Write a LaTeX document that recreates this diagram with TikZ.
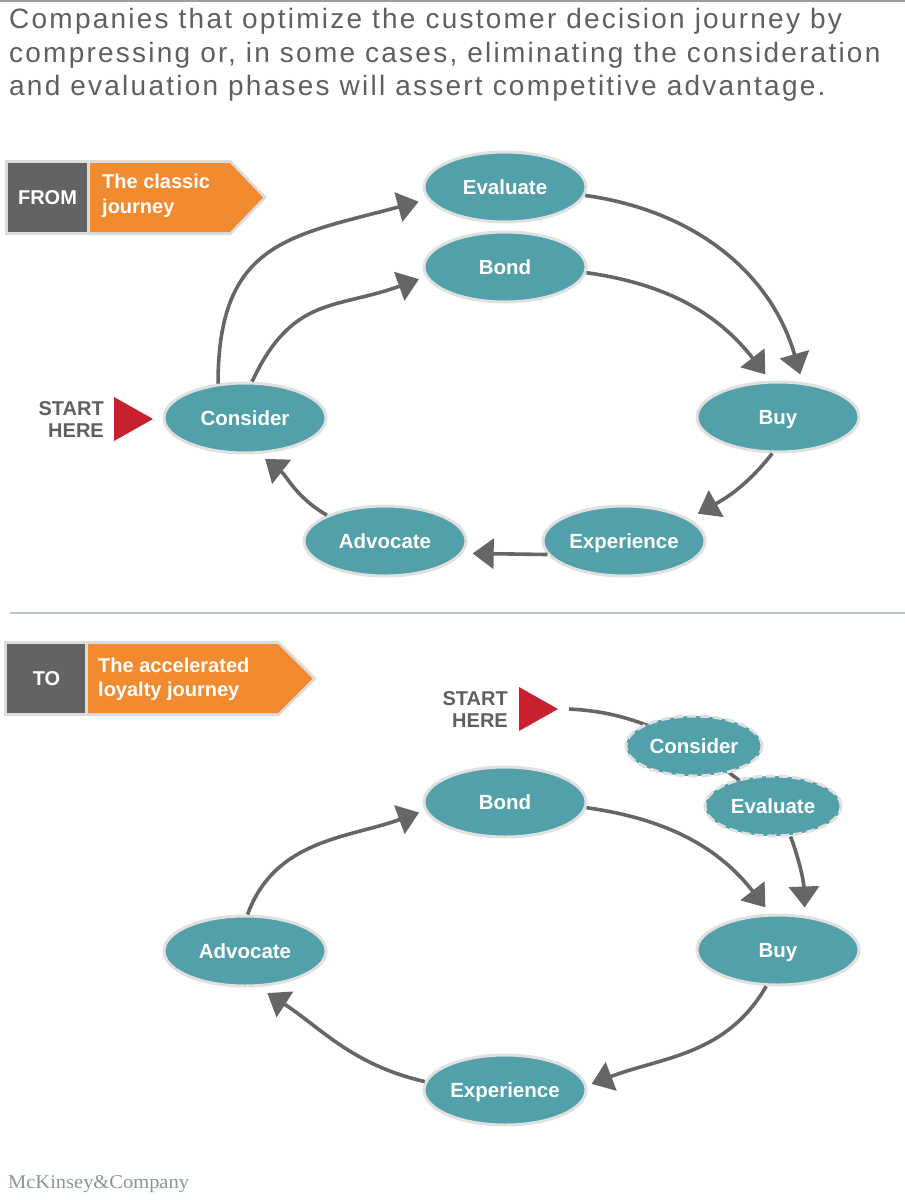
\documentclass[tikz,border=0pt]{standalone}
\usepackage{fontspec}
\setmainfont{Liberation Sans}
\newfontfamily\titlefont[LetterSpace=8]{Liberation Sans}
\newfontfamily\logofont[FakeStretch=1.05]{Liberation Serif}
\usepackage{xcolor}
\usepackage{tikz}
\usetikzlibrary{arrows.meta,shapes.geometric,backgrounds}
\definecolor{stageteal}{HTML}{52A0AA}
\definecolor{stagerim}{HTML}{E0E0DE}
\definecolor{arrowgray}{HTML}{666666}
\definecolor{tagdark}{HTML}{636363}
\definecolor{tagorange}{HTML}{F28A30}
\definecolor{tagrim}{HTML}{DCDCDC}
\definecolor{startred}{HTML}{C8202F}
\definecolor{titlegray}{HTML}{5F5F5F}
\definecolor{sepblue}{HTML}{B9C8CC}
\definecolor{logogray}{HTML}{8A9696}
\newcommand\stagefont{\bfseries\fontsize{20.5}{24}\selectfont}
\tikzset{
    stage/.style={ellipse, fill=stageteal, draw=stagerim, line width=3pt, minimum width=162pt, minimum height=70pt, inner sep=0pt, font=\stagefont, text=white, text height=14pt, text depth=0pt},
    skipped/.style={stage, dash pattern=on 9pt off 4pt, minimum width=136pt, minimum height=60pt},
    flowline/.style={draw=arrowgray, line width=3.6pt},
    flow/.style={flowline, -{Triangle[length=21pt,width=30pt]}},
    tagtext/.style={font=\bfseries\fontsize{20}{24.5}\selectfont, text=white, inner sep=0pt},
    starttext/.style={font=\bfseries\fontsize{20}{22}\selectfont, text=titlegray, align=right, inner sep=0pt},
    titletext/.style={font=\titlefont\fontsize{28}{33.5}\selectfont, text=titlegray, align=left, inner sep=0pt},
    logotext/.style={font=\logofont\fontsize{19.5}{22}\selectfont, text=logogray, inner sep=0pt}}

\begin{document}
\begin{tikzpicture}[x=1pt,y=1pt]
    \useasboundingbox (0,0) rectangle (905,-1200);
    \draw[color=black!38, line width=2pt] (0,-1) -- (905,-1);
    \node[titletext, anchor=north west] (title) at (9,-8.5) {Companies that optimize the customer decision journey by\\compressing or, in some cases, eliminating the consideration\\and evaluation phases will assert competitive advantage.};

    % FROM tag
    \fill[tagrim] (5,-160) -- (231,-160) -- (267,-197.5) -- (231,-235) -- (5,-235) -- cycle;
    \fill[tagdark] (8,-163) rectangle (87,-232);
    \fill[tagorange] (90,-163) -- (230,-163) -- (263,-197.5) -- (230,-232) -- (90,-232) -- cycle;
    \node[tagtext] (fromlbl) at (47.5,-197.5) {FROM};
    \node[tagtext, align=left, anchor=west] (fromname) at (102,-196) {The classic\\journey};

    % classic journey
    \node[starttext, anchor=east] (startAtxt) at (104,-420) {START\\HERE};
    \fill[startred] (114,-397) -- (153,-419) -- (114,-441) -- cycle;

    \node[stage] (evalA) at (505,-187) {Evaluate};
    \node[stage] (bondA) at (505,-267) {Bond};
    \node[stage] (consA) at (245,-418) {Consider};
    \node[stage] (buyA) at (778,-417) {Buy};
    \node[stage] (expA) at (624,-541) {Experience};
    \node[stage] (advA) at (385,-541) {Advocate};

    \draw[flow, shorten >=9pt] (consA.128) to[out=90, in=195, looseness=1.3] (evalA.189);
    \draw[flow, shorten >=7pt] (consA.79) to[out=65, in=200, looseness=1.2] (bondA.187);
    \draw[flow, shorten >=8pt] (evalA.-6) to[out=-8, in=106] (buyA.55);
    \draw[flow, shorten >=8pt] (bondA.-4) to[out=-8, in=128] (buyA.102);
    \draw[flow, shorten >=10pt] (buyA.261) to[out=232, in=29] (expA.19);
    \draw[flow, shorten >=10pt] (expA.190) -- (advA.-9);
    \draw[flow, shorten >=8pt] (advA.156) to[out=150, in=-38] (consA.291);

    \draw[sepblue, line width=2pt] (10,-613) -- (905,-613);

    % TO tag
    \fill[tagrim] (4,-641) -- (279,-641) -- (317,-678.5) -- (279,-716) -- (4,-716) -- cycle;
    \fill[tagdark] (7,-644) rectangle (85,-713);
    \fill[tagorange] (88,-644) -- (278,-644) -- (312.5,-678.5) -- (278,-713) -- (88,-713) -- cycle;
    \node[tagtext] (tolbl) at (46.5,-678.5) {TO};
    \node[tagtext, align=left, anchor=west] (toname) at (98,-679.5) {The accelerated\\loyalty journey};

    % accelerated loyalty journey
    \node[starttext, anchor=east] (startBtxt) at (508,-709.5) {START\\HERE};
    \fill[startred] (519,-687) -- (558,-709) -- (519,-731) -- cycle;
    \coordinate (startB) at (569,-709);

    \node[stage] (bondB) at (505,-802) {Bond};
    \node[stage] (buyB) at (778,-950) {Buy};
    \node[stage] (expB) at (505,-1090) {Experience};
    \node[stage] (advB) at (245,-951) {Advocate};
    \node[skipped] (consB) at (694,-746) {Consider};
    \node[skipped] (evalB) at (773,-806) {Evaluate};

    \begin{scope}[on background layer]
        \draw[flowline] (startB) to[out=-3, in=155] (consB.center);
        \draw[flowline] (consB.center) -- (evalB.center);
    \end{scope}
    \draw[flow, shorten >=8pt] (evalB.-60) to[out=-70, in=92] (buyB.52);
    \draw[flow, shorten >=8pt] (bondB.-4) to[out=-8, in=128] (buyB.102);
    \draw[flow, shorten >=5pt] (buyB.252) to[out=240, in=21] (expB.3);
    \draw[flow, shorten >=11pt] (expB.174) to[out=167, in=-33] (advB.290);
    \draw[flow, shorten >=6pt] (advB.86) to[out=70, in=200] (bondB.186);

    \node[logotext, anchor=base west] (logo) at (8,-1188) {McKinsey\&Company};
\end{tikzpicture}
\end{document}
